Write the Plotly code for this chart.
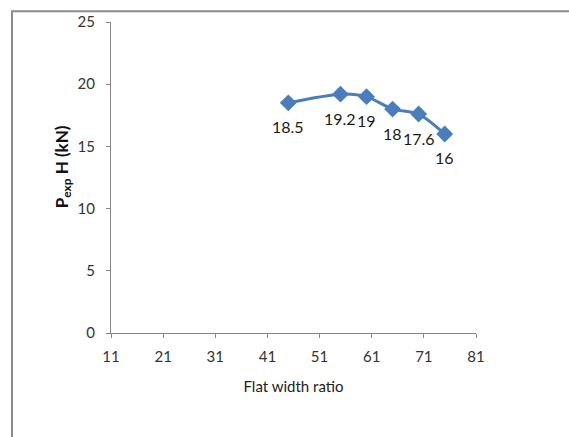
import plotly.graph_objects as go

# Flat width ratio vs. experimental load
flat_width_ratio = [45, 55, 60, 65, 70, 75]
p_exp_kn = [18.5, 19.2, 19, 18, 17.6, 16]
point_labels = ["18.5", "19.2", "19", "18", "17.6", "16"]

x_ticks = [11, 21, 31, 41, 51, 61, 71, 81]
y_ticks = [0, 5, 10, 15, 20, 25]

W, H = 569, 437
L, R, T, B = 111, 93, 16, 104
pw, ph = W - L - R, H - T - B

FONT = "Lato"
BLUE = "#4A7EBB"
AXIS = "#868686"

fig = go.Figure()
fig.add_trace(go.Scatter(
    x=flat_width_ratio,
    y=p_exp_kn,
    mode="lines+markers",
    line=dict(color=BLUE, width=3, shape="spline", smoothing=0.8),
    marker=dict(symbol="diamond", size=13, color=BLUE),
    showlegend=False,
))

# value labels under each point
for xv, yv, lbl in zip(flat_width_ratio, p_exp_kn, point_labels):
    fig.add_annotation(
        x=xv, y=yv, text=lbl, showarrow=False,
        xanchor="center", yanchor="middle", yshift=-24,
        font=dict(family=FONT, size=16, color="#1a1a1a"),
    )

axis_common = dict(
    showgrid=False,
    zeroline=False,
    showline=True,
    linecolor=AXIS,
    linewidth=1,
    ticks="outside",
    ticklen=4,
    tickcolor=AXIS,
    tickfont=dict(family=FONT, size=15, color="#333333"),
)

fig.update_xaxes(
    range=[11, 81], tickvals=x_ticks, ticktext=[str(v) for v in x_ticks],
    ticklabelstandoff=6,
    title=dict(text="Flat width ratio", font=dict(family=FONT, size=15, color="#222"), standoff=17),
    **axis_common,
)
fig.update_yaxes(
    range=[0, 25], tickvals=y_ticks, ticktext=[str(v) for v in y_ticks],
    ticklabelstandoff=8,
    **axis_common,
)

# rotated y-axis title with subscript
fig.add_annotation(
    text="<b>P<sub>exp</sub> H (kN)</b>",
    textangle=-90,
    xref="paper", yref="paper",
    x=(63 - L) / pw, y=(H - B - 164) / ph,
    xanchor="center", yanchor="middle",
    showarrow=False,
    font=dict(family=FONT, size=17, color="#111"),
)

# outer chart frame (top and left edges visible)
fig.add_shape(
    type="rect", xref="paper", yref="paper",
    x0=(12 - L) / pw, x1=(W + 10 - L) / pw,
    y0=(H - B - (H + 10)) / ph, y1=(H - B - 5) / ph,
    line=dict(color="#8c8c8c", width=2),
    layer="below",
)

fig.update_layout(
    width=W, height=H,
    margin=dict(l=L, r=R, t=T, b=B),
    paper_bgcolor="white",
    plot_bgcolor="white",
)

fig.write_html("out.html")
